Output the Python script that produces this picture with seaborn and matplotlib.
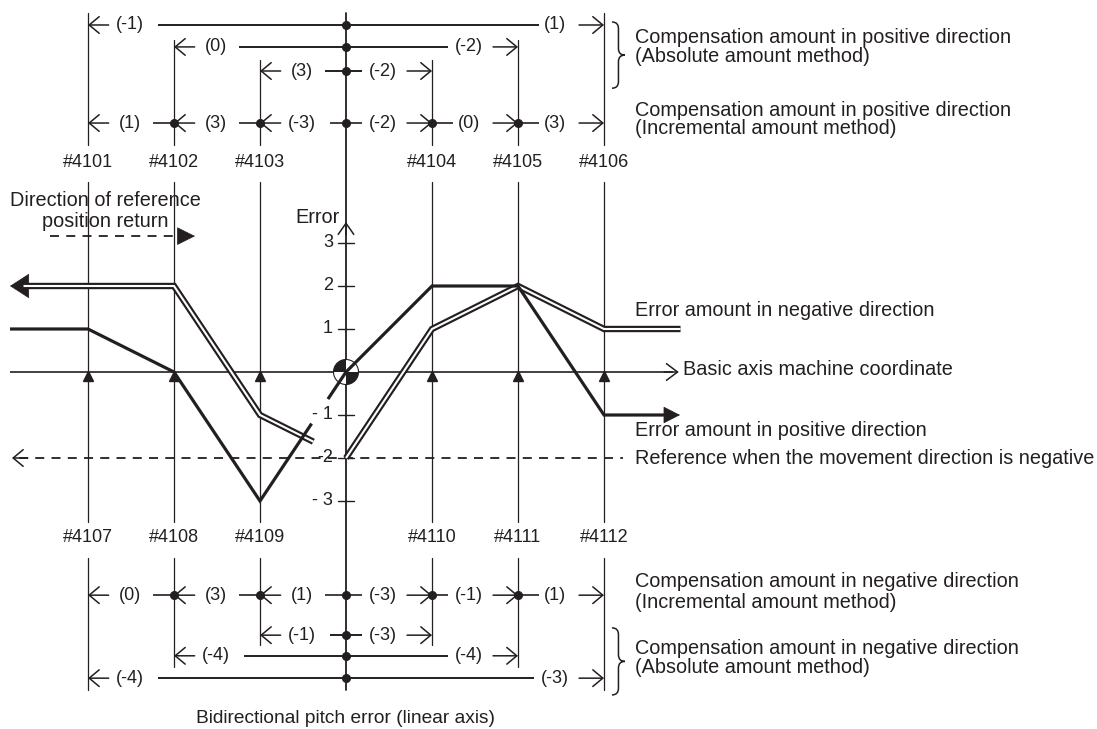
import numpy as np
import pandas as pd
import matplotlib

matplotlib.use("Agg")
import matplotlib.pyplot as plt
from matplotlib import transforms
from matplotlib.path import Path
from matplotlib.patches import PathPatch, Circle, Wedge
import seaborn as sns

# compensation points, reference point sits at column 0
columns = [-3, -2, -1, 0, 1, 2, 3]
top_labels = ["#4101", "#4102", "#4103", "", "#4104", "#4105", "#4106"]
bottom_labels = ["#4107", "#4108", "#4109", "", "#4110", "#4111", "#4112"]

# error amount at each point
error_positive = [1, 0, -3, 0, 2, 2, -1]
error_negative = [2, 2, -1, -2, 1, 2, 1]
error_ticks = [3, 2, 1, -1, -2, -3]
error_tick_labels = ["3", "2", "1", "- 1", "-2", "- 3"]
reference_negative = -2

# compensation amounts
pos_incremental = [1, 3, -3, -2, 0, 3]
neg_incremental = [0, 3, 1, -3, -1, 1]
pos_abs_span = [3, 2, 1]
pos_abs_left = [-1, 0, 3]
pos_abs_right = [1, -2, -2]
neg_abs_span = [1, 2, 3]
neg_abs_left = [-1, -4, -4]
neg_abs_right = [-3, -4, -3]

INK = "#231f20"
FS = 13      # numbers
TFS = 14.3   # words

sns.set_theme(style="white")
plt.rcParams["font.family"] = ["Liberation Sans", "DejaVu Sans"]

fig = plt.figure(figsize=(10.97, 7.29), dpi=100)
ax = fig.add_axes([0, 0, 1, 1])
ax.set_xlim(-346 / 86, (1097 - 346) / 86)
ax.set_ylim((372 - 729) / 43, 372 / 43)
ax.axis("off")


def arrow(x0, x1, y0, y1, style="->,head_length=0.36,head_width=0.3", lw=1.1, ms=20):
    ax.annotate("", xy=(x1, y1), xytext=(x0, y0),
                arrowprops=dict(arrowstyle=style, lw=lw, color=INK, shrinkA=0,
                                shrinkB=0, mutation_scale=ms))


def hline(x0, x1, y, lw=1.2):
    ax.plot([x0, x1], [y, y], color=INK, lw=lw, solid_capstyle="butt")


def label(x, y, v):
    ax.text(x, y, f"({v})", ha="center", va="center", fontsize=FS, color=INK)


def words(x, y, t, ha="left", fs=TFS):
    ax.text(x, y, t, ha=ha, va="center", fontsize=fs, color=INK)


def gap(v, side):
    n = len(f"({v})")
    return 0.08 + 0.06 * n if side == "l" else 0.02 + 0.055 * n


def incremental_row(values, y):
    for k, v in enumerate(values):
        left, right = columns[k], columns[k + 1]
        if right <= 0:
            tx = left + 0.49
            arrow(left + 0.24, left, y, y)
            hline(tx + gap(v, "l"), right, y)
        else:
            tx = right - 0.57
            hline(left, tx - gap(v, "r"), y)
            arrow(right - 0.29, right, y, y)
        label(tx, y, v)
    ax.plot(columns[1:-1], [y] * 5, "o", color=INK, ms=5.5)


def absolute_row(span, lv, rv, y):
    lx, rx = -span + 0.49, span - 0.57
    arrow(-span + 0.24, -span, y, y)
    label(lx, y, lv)
    hline(lx + gap(lv, "l"), rx - gap(rv, "r"), y, lw=1.4)
    label(rx, y, rv)
    arrow(span - 0.29, span, y, y)
    ax.plot([0], [y], "o", color=INK, ms=5.5)


def brace(x0, yt, yb, w=0.15):
    ym = (yt + yb) / 2
    r = (yt - yb) * 0.1
    xm = x0 + w / 2
    verts = [(x0, yt), (xm, yt), (xm, yt - r), (xm, ym + r), (xm, ym), (x0 + w, ym),
             (xm, ym), (xm, ym - r), (xm, yb + r), (xm, yb), (x0, yb)]
    codes = [Path.MOVETO, Path.CURVE3, Path.CURVE3, Path.LINETO, Path.CURVE3, Path.CURVE3,
             Path.CURVE3, Path.CURVE3, Path.LINETO, Path.CURVE3, Path.CURVE3]
    ax.add_patch(PathPatch(Path(verts, codes), fc="none", ec=INK, lw=1.1))


# vertical lines of the compensation points
top_start = {1: 7.26, 2: 7.72, 3: 8.35}
bottom_end = {1: -6.35, 2: -6.86, 3: -7.40}
for c in columns:
    if c == 0:
        ax.plot([0, 0], [8.35, -7.40], color=INK, lw=1.3)
        continue
    for y0, y1 in [(top_start[abs(c)], 5.28), (4.42, -3.49), (-4.33, bottom_end[abs(c)])]:
        ax.plot([c, c], [y0, y1], color=INK, lw=0.9)
for c, tl, bl in zip(columns, top_labels, bottom_labels):
    ax.text(c, 4.88, tl, ha="center", va="center", fontsize=FS, color=INK)
    ax.text(c, -3.86, bl, ha="center", va="center", fontsize=FS, color=INK)

# compensation rows
for s, lv, rv, y in zip(pos_abs_span, pos_abs_left, pos_abs_right, [8.07, 7.56, 7.0]):
    absolute_row(s, lv, rv, y)
incremental_row(pos_incremental, 5.79)
incremental_row(neg_incremental, -5.19)
for s, lv, rv, y in zip(neg_abs_span, neg_abs_left, neg_abs_right, [-6.12, -6.60, -7.12]):
    absolute_row(s, lv, rv, y)

brace(3.093, 8.14, 6.60)
brace(3.093, -5.95, -7.51)
side_text = [
    (7.79, "Compensation amount in positive direction"),
    (7.33, "(Absolute amount method)"),
    (6.09, "Compensation amount in positive direction"),
    (5.67, "(Incremental amount method)"),
    (-4.88, "Compensation amount in negative direction"),
    (-5.37, "(Incremental amount method)"),
    (-6.42, "Compensation amount in negative direction"),
    (-6.88, "(Absolute amount method)"),
]
for y, t in side_text:
    words(3.36, y, t)

# basic axis and error axis
x_left, x_right = -3.907, 3.89
hline(x_left, 3.80, 0, lw=1.2)
arrow(3.70, 3.87, 0, 0, style="->,head_length=0.4,head_width=0.3")
words(3.92, 0.05, "Basic axis machine coordinate")
arrow(0, 0, 3.2, 3.49, style="->,head_length=0.4,head_width=0.28")
words(-0.33, 3.6, "Error", ha="center")
for t, tl in zip(error_ticks, error_tick_labels):
    ax.plot([-0.093, 0.093], [t, t], color=INK, lw=1.0)
    ax.text(-0.15, t, tl, ha="right", va="center", fontsize=FS, color=INK)
ax.plot([c for c in columns if c != 0], [-0.1] * 6, "^", color=INK, ms=7)

# reference dashed lines
ax.plot([-3.80, 3.22], [reference_negative] * 2, color=INK, lw=1.3, ls=(0, (5, 4)))
arrow(-3.70, -3.884, reference_negative, reference_negative,
      style="->,head_length=0.36,head_width=0.3")
words(3.36, -2.02, "Reference when the movement direction is negative")
ax.plot([-3.44, -1.88], [3.16, 3.16], color=INK, lw=1.3, ls=(0, (5, 4)))
arrow(-1.86, -1.756, 3.16, 3.16, style="-|>,head_length=0.6,head_width=0.3", lw=0.5)
words(-2.80, 4.0, "Direction of reference", ha="center")
words(-2.80, 3.51, "position return", ha="center")

# reference point symbol
trans = fig.dpi_scale_trans + transforms.ScaledTranslation(0, 0, ax.transData)
ax.add_patch(Circle((0, 0), 0.125, transform=trans, fc="white", ec=INK, lw=0.8, zorder=3))
ax.add_patch(Wedge((0, 0), 0.125, 90, 180, transform=trans, fc=INK, ec="none", zorder=3))
ax.add_patch(Wedge((0, 0), 0.125, 270, 360, transform=trans, fc=INK, ec="none", zorder=3))


def curve_frame(values, x0, x1, cut0, cut1):
    xs = np.array([x0] + columns + [x1], dtype=float)
    ys = np.array([values[0]] + values + [values[-1]], dtype=float)
    ya, yb = np.interp([cut0, cut1], xs, ys)
    seg_a = [(x, y) for x, y in zip(xs, ys) if x < cut0] + [(cut0, ya)]
    seg_b = [(cut1, yb)] + [(x, y) for x, y in zip(xs, ys) if x > cut1]
    rows = [dict(x=x, y=y, seg="a") for x, y in seg_a]
    rows += [dict(x=x, y=y, seg="b") for x, y in seg_b]
    return pd.DataFrame(rows)


# error amount in negative direction (double line)
neg_df = curve_frame(error_negative, -3.75, x_right, -0.38, 0.0)
sns.lineplot(data=neg_df, x="x", y="y", units="seg", estimator=None, sort=False,
             color=INK, lw=4.6, ax=ax, legend=False, zorder=4,
             solid_joinstyle="miter", solid_capstyle="butt")
sns.lineplot(data=neg_df, x="x", y="y", units="seg", estimator=None, sort=False,
             color="white", lw=1.5, ax=ax, legend=False, zorder=5,
             solid_joinstyle="miter", solid_capstyle="butt")
arrow(-3.68, x_left, error_negative[0], error_negative[0],
      style="-|>,head_length=0.65,head_width=0.42", lw=0.5)

# error amount in positive direction (bold line)
pos_df = curve_frame(error_positive, x_left, 3.80, -0.40, -0.21)
sns.lineplot(data=pos_df, x="x", y="y", units="seg", estimator=None, sort=False,
             color=INK, lw=2.3, ax=ax, legend=False, zorder=6,
             solid_joinstyle="miter", solid_capstyle="butt")
arrow(3.75, 3.884, error_positive[-1], error_positive[-1],
      style="-|>,head_length=0.55,head_width=0.28", lw=0.5)
words(3.36, 1.42, "Error amount in negative direction")
words(3.36, -1.35, "Error amount in positive direction")

words(0, -8.05, "Bidirectional pitch error (linear axis)", ha="center", fs=13.8)

fig.savefig("out.png", dpi=100)
